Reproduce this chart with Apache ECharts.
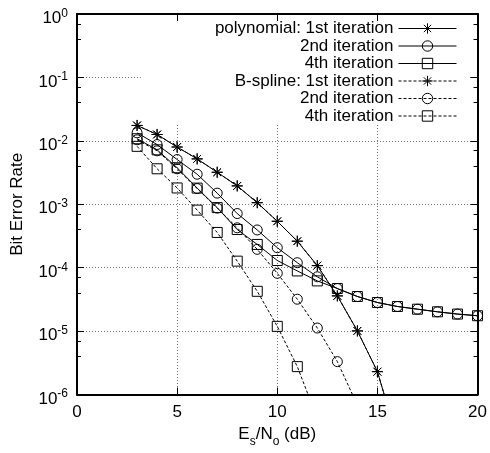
<!DOCTYPE html>
<html><head><meta charset="utf-8">
<script src="https://cdn.jsdelivr.net/npm/echarts@6/dist/echarts.min.js"></script>
<style>html,body{margin:0;padding:0;background:#fff}#c{width:490px;height:453px}</style>
</head><body><div id="c"></div>
<script>
// ---- data ----
const xPoly1 = [3,4,5,6,7,8,9,10,11,12,13,14,15,16];
const yPoly1 = [0.0175,0.0126,0.0080,0.0052,0.0032,0.00195,0.00106,0.00054,0.000262,0.000108,3.6e-5,1.01e-5,2.3e-6,2.0e-7];
const xPoly2 = [3,4,5,6,7,8,9,10,11,12,13,14,15,16,17,18,19,20];
const yPoly2 = [0.0134,0.00875,0.00508,0.00298,0.0015,7.15e-4,3.94e-4,2.07e-4,1.20e-4,7.2e-5,4.7e-5,3.52e-5,2.83e-5,2.45e-5,2.22e-5,2.02e-5,1.86e-5,1.75e-5];
const xPoly4 = [3,4,5,6,7,8,9,10,11,12,13,14,15,16,17,18,19,20];
const yPoly4 = [0.0108,0.00722,0.00377,0.00180,8.87e-4,4.0e-4,2.33e-4,1.30e-4,8.9e-5,6.2e-5,4.7e-5,3.52e-5,2.83e-5,2.45e-5,2.22e-5,2.02e-5,1.86e-5,1.75e-5];
const xBs1 = [3,4,5,6,7,8,9,10,11,12,13,14,15,16];
const yBs1 = [0.0175,0.0126,0.0080,0.0052,0.0032,0.00195,0.00106,0.00054,0.000262,0.000108,3.6e-5,1.01e-5,2.3e-6,2.0e-7];
const xBs2 = [3,4,5,6,7,8,9,10,11,12,13,14];
const yBs2 = [0.0104,0.00697,0.00363,0.00177,8.71e-4,4.26e-4,1.95e-4,8.17e-5,3.19e-5,1.12e-5,3.31e-6,6.8e-7];
const xBs4 = [3,4,5,6,7,8,9,10,11,12];
const yBs4 = [0.0082,0.00363,0.00181,8.1e-4,3.6e-4,1.27e-4,4.25e-5,1.19e-5,2.76e-6,4.2e-7];
const seriesNames = ['poly1','poly2','poly4','bs1','bs2','bs4'];
const legendLabels = ['polynomial: 1st iteration','2nd iteration','4th iteration','B-spline: 1st iteration','2nd iteration','4th iteration'];
const xTicks = [0,5,10,15,20];
const yMin = 1e-6, yMax = 1;

// ---- chart ----
const FONT = 'Liberation Sans, Arial, Helvetica, sans-serif';
const STAR = 'path://M0,5L10,5M5,0L5,10M1.5,1.5L8.5,8.5M8.5,1.5L1.5,8.5';
const zip = (xs, ys) => xs.map((x, i) => [x, ys[i]]);
function mk(name, xs, ys, symbol, dashed, size) {
  return {
    name, type: 'line', data: zip(xs, ys), xAxisIndex: 0, yAxisIndex: 0,
    symbol, symbolSize: size, showAllSymbol: true, clip: true, z: 2,
    lineStyle: { color: '#000', width: 1, type: dashed ? [3, 2] : 'solid' },
    itemStyle: { color: 'rgba(0,0,0,0)', borderColor: '#000', borderWidth: 1 },
    emphasis: { disabled: true }, animation: false
  };
}
const chart = echarts.init(document.getElementById('c'), null, { renderer: 'canvas' });
const yLabelRich = {
  b: { fontSize: 17, lineHeight: 22, fontFamily: FONT, color: '#000' },
  s: { fontSize: 12, lineHeight: 12, verticalAlign: 'top', fontFamily: FONT, color: '#000' }
};
chart.setOption({
  backgroundColor: '#fff',
  animation: false,
  grid: { left: 77, right: 12, top: 14, bottom: 57 },
  legend: {
    data: seriesNames, orient: 'vertical', align: 'right',
    right: 22, top: 15, z: 1,
    padding: [5, 11, 0, 74], backgroundColor: '#fff',
    itemWidth: 58, itemHeight: 13, itemGap: 0.5,
    lineStyle: { width: 1, color: '#000' },
    itemStyle: { borderWidth: 1, borderColor: '#000', color: 'rgba(0,0,0,0)' },
    formatter: n => legendLabels[seriesNames.indexOf(n)],
    textStyle: { fontSize: 17, fontFamily: FONT, color: '#000' },
    selectedMode: false
  },
  xAxis: [
    { type: 'value', min: xTicks[0], max: xTicks[xTicks.length - 1], interval: 5, position: 'bottom',
      name: '{a|E}{b|s}{a|/N}{b|o}{a| (dB)}', nameLocation: 'middle', nameGap: 24,
      nameTextStyle: { rich: {
        a: { fontSize: 17, lineHeight: 28, fontFamily: FONT, color: '#000' },
        b: { fontSize: 12, lineHeight: 12, verticalAlign: 'bottom', fontFamily: FONT, color: '#000' } } },
      axisLine: { show: true, onZero: false, lineStyle: { color: '#000', width: 2 } },
      axisTick: { show: true, inside: true, length: 7, lineStyle: { color: '#000', width: 1 } },
      axisLabel: { margin: 9, fontSize: 17, fontFamily: FONT, color: '#000' },
      splitLine: { show: true, lineStyle: { color: '#777', width: 1, type: [1, 2] } } },
    { type: 'value', min: xTicks[0], max: xTicks[xTicks.length - 1], interval: 5, position: 'top', z: 3,
      axisLine: { show: true, onZero: false, lineStyle: { color: '#000', width: 2 } },
      axisTick: { show: true, inside: true, length: 7, lineStyle: { color: '#000', width: 1 } },
      axisLabel: { show: false }, splitLine: { show: false } }
  ],
  yAxis: [
    { type: 'log', min: yMin, max: yMax, logBase: 10, position: 'left',
      name: 'Bit Error Rate', nameLocation: 'middle', nameGap: 51,
      nameTextStyle: { fontSize: 17, fontFamily: FONT, color: '#000' },
      axisLine: { show: true, onZero: false, lineStyle: { color: '#000', width: 2 } },
      axisTick: { show: true, inside: true, length: 7, lineStyle: { color: '#000', width: 1 } },
      minorTick: { show: true, splitNumber: 3, length: 4, lineStyle: { color: '#000', width: 1 } },
      axisLabel: { margin: 9, padding: [9, 0, 0, 0], showMinLabel: true, showMaxLabel: true,
        formatter: v => '{b|10}{s|' + Math.round(Math.log10(v)) + '}', rich: yLabelRich },
      splitLine: { show: true, lineStyle: { color: '#777', width: 1, type: [1, 2] } } },
    { type: 'log', min: yMin, max: yMax, logBase: 10, position: 'right', z: 3,
      axisLine: { show: true, onZero: false, lineStyle: { color: '#000', width: 2 } },
      axisTick: { show: true, inside: true, length: 7, lineStyle: { color: '#000', width: 1 } },
      minorTick: { show: true, splitNumber: 3, length: 4, lineStyle: { color: '#000', width: 1 } },
      axisLabel: { show: false }, splitLine: { show: false } }
  ],
  series: [
    mk('poly1', xPoly1, yPoly1, STAR, false, 11),
    mk('poly2', xPoly2, yPoly2, 'circle', false, 10),
    mk('poly4', xPoly4, yPoly4, 'rect', false, 10),
    mk('bs1', xBs1, yBs1, STAR, true, 11),
    mk('bs2', xBs2, yBs2, 'circle', true, 10),
    mk('bs4', xBs4, yBs4, 'rect', true, 10)
  ]
});
</script></body></html>
